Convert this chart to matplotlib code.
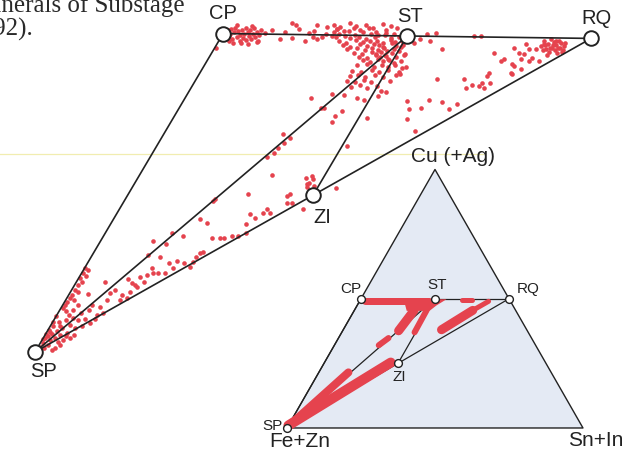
import numpy as np
import matplotlib
matplotlib.use('Agg')
import matplotlib.pyplot as plt
from matplotlib.lines import Line2D
from matplotlib.transforms import Affine2D

plt.rcParams['font.family'] = ['Liberation Sans', 'DejaVu Sans']

RED = '#e5434e'
INK = '#222222'

# end members, atomic % Cu and Sn+In (Fe+Zn is the remainder)
mineral_names = ['SP', 'CP', 'ST', 'RQ', 'ZI']
mineral_cu = [0, 50, 50, 50, 25]
mineral_sn = [0, 0, 25, 50, 25]
tie_lines = [('SP', 'CP'), ('SP', 'ST'), ('SP', 'RQ'), ('ZI', 'ST'), ('CP', 'RQ')]

apex_names = ['Fe+Zn', 'Cu (+Ag)', 'Sn+In']
apex_cu = [0, 100, 0]
apex_sn = [0, 0, 100]

# analyses, (Cu, Sn+In) in atomic %
cp_cluster = [
    (50.5, 0.4), (49.7, 1.0), (50.8, 0.7), (49.2, 1.6), (50.2, 1.4), (50.9, 1.2), (49.5, 2.2), (50.5, 1.8),
    (48.9, 2.8), (49.8, 2.4), (50.6, 2.3), (49.4, 3.0), (50.0, 2.9), (50.9, 2.6), (49.1, 3.6), (50.3, 3.2),
    (49.7, 3.7), (50.6, 3.3), (49.2, 4.2), (50.0, 4.0), (50.9, 3.8), (49.5, 4.6), (50.3, 4.5), (48.9, 5.3),
    (49.8, 5.0), (50.6, 4.8), (48.9, 1.3), (48.6, 2.1), (48.6, 3.1), (48.4, 4.2), (51.3, 1.2), (51.3, 3.3),
    (50.1, 5.6), (48.7, 5.2), (50.0, 0.9), (47.8, 0.2),
]
cp_st_line = [
    (49.2, 8.1), (51.8, 8.4), (51.5, 9.2), (50.9, 9.9), (49.5, 9.6), (50.3, 11.5), (50.6, 12.1), (49.4, 13.0),
    (49.6, 13.7), (50.2, 13.9), (49.9, 14.8), (51.0, 14.9), (50.6, 6.3), (50.3, 8.2), (49.0, 11.6), (49.7, 12.3),
    (51.6, 12.0), (51.3, 13.5),
]
st_cluster = [
    (51.6, 14.3), (51.3, 15.2), (51.9, 16.3), (51.4, 17.4), (51.7, 18.5), (51.2, 19.7), (51.8, 20.8), (51.5, 22.0),
    (51.0, 15.0), (50.7, 16.1), (51.2, 17.2), (50.8, 18.2), (51.1, 19.3), (50.6, 20.5), (50.9, 21.7), (51.2, 23.0),
    (50.4, 14.8), (50.2, 15.7), (50.6, 16.8), (50.1, 17.9), (50.5, 18.8), (50.3, 19.9), (50.1, 21.0), (50.5, 21.9),
    (50.3, 23.0), (49.7, 15.5), (49.9, 16.6), (49.5, 17.5), (49.8, 18.6), (49.4, 19.7), (49.8, 20.8), (50.1, 21.9),
    (49.7, 22.9), (49.9, 23.9), (49.1, 16.2), (48.8, 17.3), (49.3, 18.4), (48.9, 19.5), (49.2, 20.4), (49.1, 21.3),
    (48.8, 22.3), (49.4, 23.1), (49.0, 23.9), (49.2, 24.7), (48.5, 17.1), (48.2, 18.1), (48.7, 19.2), (48.4, 20.3),
    (48.7, 21.1), (48.5, 21.9), (48.2, 22.7), (48.8, 23.5), (48.4, 24.3), (48.6, 25.2), (47.8, 17.9), (48.1, 19.2),
    (47.7, 20.4), (48.0, 21.3), (47.8, 22.1), (48.1, 22.8), (47.6, 23.5), (47.9, 24.3), (48.2, 25.1), (47.2, 19.2),
    (47.1, 20.4), (47.5, 21.5), (47.2, 22.2), (47.4, 22.8), (47.0, 23.5), (47.3, 24.3), (47.6, 25.1), (47.2, 26.1),
    (46.6, 20.2), (46.5, 21.4), (46.9, 22.3), (46.6, 23.0), (46.8, 23.7), (46.4, 24.3), (46.7, 25.2), (47.0, 26.1),
    (46.1, 21.0), (45.9, 22.1), (46.3, 22.9), (46.0, 23.7), (46.2, 24.5), (45.8, 25.3), (46.1, 26.1), (45.3, 20.6),
    (45.5, 21.9), (45.1, 23.0), (45.4, 24.0), (45.2, 24.8), (45.5, 25.6), (45.1, 27.3), (44.5, 20.3), (44.3, 21.6),
    (44.7, 23.0), (44.4, 24.1), (44.6, 25.1), (44.3, 26.8), (43.7, 20.4), (43.9, 21.5), (43.5, 22.6), (43.8, 23.8),
    (43.6, 25.0), (43.9, 26.6), (42.9, 20.4), (42.7, 21.6), (43.1, 22.7), (42.8, 23.8), (43.0, 26.2), (42.0, 21.5),
    (42.2, 22.6), (41.8, 23.7), (42.1, 25.0),
]
st_rq_line = [
    (50.35, 27.5), (49.3, 28.4), (50.5, 28.7), (48.0, 30.8), (49.6, 26.9), (50.1, 34.0), (50.1, 35.0), (48.9, 26.5),
]
st_rq_field = [
    (43.4, 32.5), (43.4, 36.1), (45.0, 26.9), (44.1, 27.0), (39.9, 30.1), (38.6, 31.1), (37.1, 31.6), (38.8, 32.6),
    (40.1, 33.1), (39.8, 34.9), (38.7, 36.5), (39.5, 37.1), (35.2, 33.7), (42.0, 37.1), (42.5, 37.6), (42.3, 38.7),
    (42.8, 38.9), (42.0, 39.6), (43.9, 39.0), (42.8, 40.0), (44.3, 42.2),
]
rq_side = [
    (47.5, 38.1), (46.3, 39.7), (46.6, 39.9), (48.3, 40.4), (47.55, 41.5), (49.0, 41.7), (48.2, 42.5), (47.4, 42.2),
    (46.6, 42.2), (45.5, 41.8), (45.05, 43.0), (44.4, 42.0), (46.3, 43.5), (46.8, 43.6), (48.2, 43.4), (46.3, 44.8),
    (44.4, 39.0), (45.8, 41.4), (49.0, 44.1),
]
rq_cluster = [
    (48.7, 43.9), (49.5, 43.9), (48.2, 44.8), (49.0, 44.7), (47.75, 45.4), (49.8, 44.7), (48.5, 45.5), (49.3, 45.3),
    (48.1, 46.1), (48.85, 45.8), (47.6, 46.6), (49.6, 45.9), (48.4, 46.6), (49.2, 46.3), (47.9, 47.1), (48.7, 47.0),
    (47.4, 45.4), (48.4, 45.2), (48.85, 45.4), (48.4, 46.3), (48.1, 44.5), (48.85, 44.3), (49.3, 46.8), (48.2, 47.1),
    (49.5, 45.5),
]
st_band = [
    (40.2, 17.0), (38.6, 19.1), (38.6, 19.5), (40.8, 19.5), (37.4, 21.6), (36.5, 21.7), (38.2, 22.2), (40.7, 21.2),
    (40.3, 23.2), (37.1, 26.1), (40.0, 24.3), (40.6, 25.8), (41.4, 25.9), (41.2, 26.6), (32.7, 25.7),
]
zi_area = [
    (34.4, 16.1), (33.0, 17.0), (32.3, 16.5), (31.5, 16.4), (30.8, 15.8), (33.9, 17.3), (28.1, 17.9), (25.0, 16.1),
    (24.2, 12.1), (23.9, 12.0), (21.0, 11.7), (20.4, 12.9), (22.0, 17.9), (21.4, 19.0), (20.4, 18.3), (22.1, 19.7),
    (22.8, 19.9), (22.1, 20.6), (24.9, 21.5), (25.1, 21.8), (23.7, 22.1), (23.8, 22.8), (22.9, 24.7), (27.7, 22.7),
    (28.0, 23.3), (27.6, 23.6), (26.8, 23.2), (26.2, 23.6), (26.9, 23.5), (26.5, 24.4), (26.2, 27.5),
]
sp_zi_band = [
    (18.9, 9.0), (18.3, 10.7), (17.6, 7.0), (17.1, 9.1), (15.3, 7.5), (15.1, 9.2), (14.2, 11.0), (14.5, 11.9),
    (14.1, 13.0), (14.3, 14.1), (15.1, 14.1), (15.7, 14.4), (15.9, 14.7), (18.1, 14.8), (18.1, 15.9), (18.2, 16.4),
    (18.4, 17.3), (18.5, 18.1), (19.0, 19.0), (12.6, 11.2), (13.4, 11.9), (13.5, 14.2), (13.4, 9.1), (12.2, 9.0),
    (12.5, 9.6), (12.5, 10.3), (11.9, 8.2), (10.3, 8.6), (10.9, 7.6), (11.5, 6.8), (9.0, 7.2), (8.6, 8.1),
    (8.3, 7.3), (9.8, 5.9), (9.3, 5.4), (8.3, 5.5), (7.1, 5.2), (6.2, 6.1), (5.9, 5.4), (9.2, 2.5),
    (11.0, 3.9), (10.6, 8.2), (11.1, 9.2), (9.5, 8.0),
]
sp_cp_line = [
    (13.2, 0.1), (12.4, 0.2), (11.6, 0.2), (11.0, 0.7), (10.5, 0.5), (9.7, 0.5), (8.9, 0.5), (8.5, 0.4),
    (7.8, 0.3), (7.4, 0.3), (6.9, 0.3), (12.9, 0.6), (11.9, 0.9), (9.4, 1.1), (8.15, 1.1),
]
sp_cluster = [
    (0.8, 0.3), (1.4, 0.4), (2.2, 0.3), (1.1, 1.2), (1.9, 1.1), (2.8, 0.9), (3.4, 0.1), (2.2, 1.6),
    (3.3, 1.3), (4.1, 0.4), (2.7, 2.0), (3.8, 1.7), (4.7, 0.8), (5.0, 1.6), (3.1, 2.8), (4.2, 2.6),
    (5.3, 2.4), (3.8, 3.5), (5.0, 3.3), (6.1, 3.1), (5.3, 4.1), (6.6, 3.9), (4.7, 5.1), (1.1, 2.8),
    (0.6, 2.4), (3.1, 0.5), (1.9, 2.9), (5.8, 1.6), (6.6, 1.8), (7.4, 2.0), (2.8, 0.0), (2.0, 0.0),
    (5.6, 0.0), (4.2, 4.2), (5.3, 5.5), (7.4, 4.0), (4.7, 0.1), (6.4, 0.9), (1.6, 2.3), (2.2, 3.6),
    (0.3, 0.3), (0.6, 0.9), (0.3, 2.2), (2.5, 0.5), (4.1, 1.3), (2.5, 3.0), (2.8, 3.9),
]

# composition fields shown on the small triangle, (Cu, Sn+In) outlines
field_st_knot = [(49.8, 14.5), (49.8, 29.0), (47.4, 26.8), (45.3, 25.5), (45.3, 17.8)]
field_strokes = {
    'cp_st': [(49.2, 1.7), (49.2, 23.5)],
    'sp_st_upper': [(45.6, 20.2), (37.6, 18.9)],
    'zi_st': [(45.6, 24.4), (37.0, 24.6)],
    'sp_st_mid': [(34.8, 16.9), (32.0, 15.0)],
    'sp_st_lower': [(0.6, 0.1), (21.5, 10.0)],
    'sp_zi': [(1.0, 0.0), (25.3, 22.4)],
    'st_rq': [(49.7, 34.3), (49.7, 37.6)],
    'rq_upper': [(49.0, 43.6), (45.5, 40.0)],
    'rq_lower': [(45.5, 40.0), (38.0, 33.2)],
}
stroke_px = {'cp_st': 7, 'sp_st_upper': 9, 'zi_st': 6, 'sp_st_mid': 6, 'sp_st_lower': 8,
             'sp_zi': 10, 'st_rq': 5, 'rq_upper': 5, 'rq_lower': 9}


def tern(cu, sn):
    cu = np.asarray(cu, float)
    sn = np.asarray(sn, float)
    return sn + cu / 2, cu * np.sqrt(3) / 2


def px2pt(p):
    return p * 72 / 100


fig = plt.figure(figsize=(6.36, 4.59), dpi=100)
fig.patch.set_facecolor('white')

# enlarged part of the diagram
ax = fig.add_axes([0, 0, 1, 1])
ax.set_xlim(-4.755, 81.66)
ax.set_ylim(-14.44, 47.50)
ax.axis('off')
rot = Affine2D().rotate_deg(-0.75) + ax.transData

groups = [cp_cluster, cp_st_line, st_cluster, st_rq_line, st_rq_field, rq_side, rq_cluster,
          st_band, zi_area, sp_zi_band, sp_cp_line, sp_cluster]
pts = np.array([p for g in groups for p in g])
px, py = tern(pts[:, 0], pts[:, 1])
ax.scatter(px, py, s=11, c=RED, linewidths=0, transform=rot, zorder=2)

idx = {n: i for i, n in enumerate(mineral_names)}
mx, my = tern(mineral_cu, mineral_sn)
for a, b in tie_lines:
    ax.plot([mx[idx[a]], mx[idx[b]]], [my[idx[a]], my[idx[b]]], color=INK, lw=1.2,
            transform=rot, zorder=3)
ax.plot(mx, my, 'o', ms=10.5, mfc='white', mec=INK, mew=1.4, transform=rot, zorder=4)

big_off = {'SP': (5.8, -13.7), 'CP': (-0.2, 14.8), 'ST': (2.0, 13.7), 'RQ': (4.2, 14.0), 'ZI': (6.5, -15.7)}
for n in mineral_names:
    i = idx[n]
    ax.annotate(n, (mx[i], my[i]), xycoords=rot, xytext=big_off[n], textcoords='offset points',
                ha='center', va='center', fontsize=14.5, color=INK)

# full triangle
ins = fig.add_axes([0, 0, 1, 1])
ins.set_xlim(-96.96, 117.91)
ins.set_ylim(-10.39, 143.38)
ins.axis('off')

tx, ty = tern(apex_cu, apex_sn)
ins.fill(tx, ty, color='#e4eaf4', lw=0, zorder=1)
ins.plot(np.append(tx, tx[0]), np.append(ty, ty[0]), color=INK, lw=1.0, zorder=2)

for a, b in tie_lines:
    ins.plot([mx[idx[a]], mx[idx[b]]], [my[idx[a]], my[idx[b]]], color=INK, lw=0.9, zorder=2)

kx, ky = tern(*zip(*field_st_knot))
ins.fill(kx, ky, color=RED, lw=0, zorder=3)
for key, seg in field_strokes.items():
    sx, sy = tern(*zip(*seg))
    ins.plot(sx, sy, color=RED, lw=px2pt(stroke_px[key]), solid_capstyle='round', zorder=3)

ins.plot(mx, my, 'o', ms=5.6, mfc='white', mec=INK, mew=1.0, zorder=4)

small_off = {'SP': (-10.5, 1.2), 'CP': (-7.2, 7.2), 'ST': (1.4, 9.8), 'RQ': (13.7, 7.0), 'ZI': (0.7, -9.8)}
for n in mineral_names:
    i = idx[n]
    ins.annotate(n, (mx[i], my[i]), xytext=small_off[n], textcoords='offset points',
                 ha='center', va='center', fontsize=11, color=INK)

apex_off = {'Fe+Zn': (9.4, -9.6), 'Cu (+Ag)': (13.0, 9.0), 'Sn+In': (9.4, -9.0)}
for n, x, y in zip(apex_names, tx, ty):
    ins.annotate(n, (x, y), xytext=apex_off[n], textcoords='offset points',
                 ha='center', va='center', fontsize=15, color=INK)

# running caption text and page rule from the book
fig.text(185 / 636, 1 - 12 / 459, 'Minerals of Substage', ha='right', va='baseline',
         fontsize=18, family='Liberation Serif', color='#2a2a2a')
fig.text(34 / 636, 1 - 36 / 459, '(1992).', ha='right', va='baseline',
         fontsize=18, family='Liberation Serif', color='#2a2a2a')
fig.add_artist(Line2D([0, 0.76], [1 - 154 / 459] * 2, transform=fig.transFigure,
                      color='#f1edb0', lw=0.9, zorder=0))

fig.savefig('out.png', dpi=100, facecolor='white')
